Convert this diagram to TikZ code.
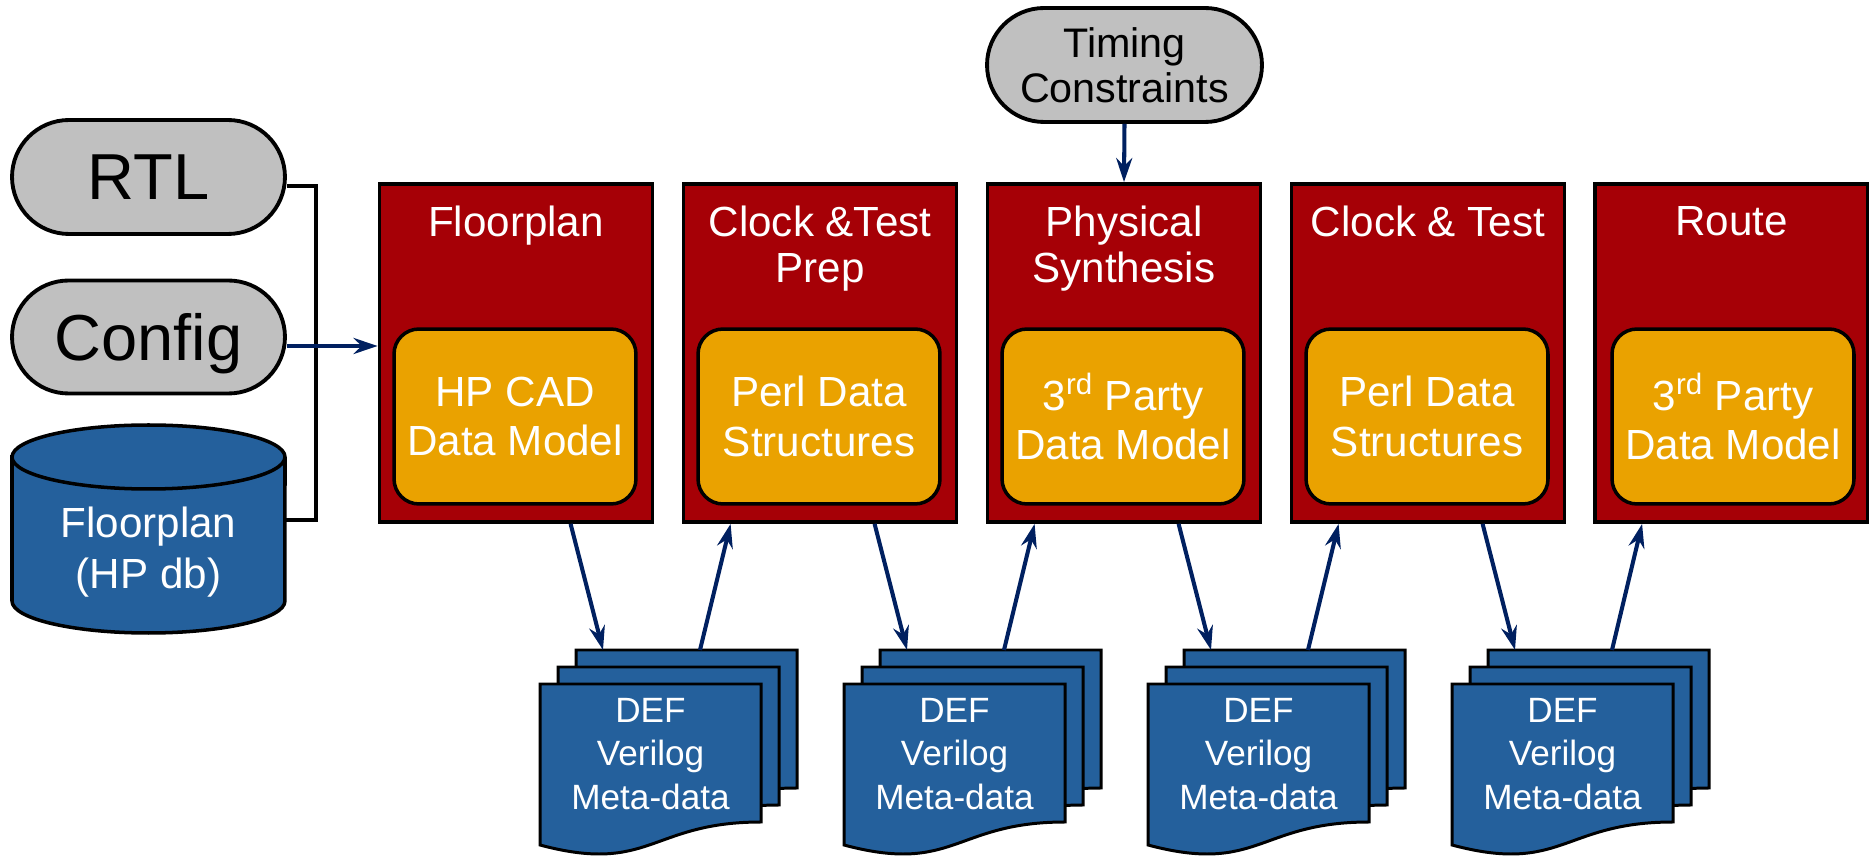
\documentclass[tikz,border=0pt]{standalone}
\usepackage{fontspec}
\setmainfont{Liberation Sans}
\usetikzlibrary{shapes.misc,arrows.meta,calc}

\definecolor{stagered}{RGB}{166,0,6}
\definecolor{coreorange}{RGB}{234,162,0}
\definecolor{docblue}{RGB}{36,96,156}
\definecolor{pillgray}{RGB}{192,192,192}
\definecolor{navy}{RGB}{0,32,96}

\begin{document}
\begin{tikzpicture}[x=0.02cm,y=-0.02cm,
  stage/.style={draw=black, line width=2.2pt, fill=stagered, minimum width=5.46cm, minimum height=6.76cm, inner sep=0pt},
  core/.style={draw=black, line width=2pt, fill=coreorange, rounded corners=0.5cm, minimum width=4.84cm, minimum height=3.5cm, text=white, align=center, inner sep=0pt, font=\fontsize{24}{28.3}\selectfont},
  title/.style={text=white, align=center, anchor=north, inner sep=0pt, font=\fontsize{24}{26}\selectfont},
  pill/.style={rounded rectangle, draw=black, line width=2.2pt, fill=pillgray, inner sep=0pt, align=center},
  arr/.style={draw=navy, line width=2.3pt, -{Stealth[length=0.48cm,width=0.32cm,inset=0.16cm]}},
  bus/.style={draw=black, line width=2.3pt},
  docline/.style={draw=black, line width=1.7pt, fill=docblue},
  doctext/.style={text=white, align=center, anchor=north, inner sep=0pt, font=\fontsize{20}{25}\selectfont},
  docpage/.pic={\filldraw[docline] (0,0) -- (221,0) -- (221,138) .. controls (110.5,138) and (110.5,190.5) .. (0,161) -- cycle;}
]
\useasboundingbox (0,0) rectangle (1869,857);

% input sources
\node[pill, minimum width=5.46cm, minimum height=2.28cm, text depth=0pt, font=\fontsize{37}{42}\selectfont] (rtl) at (148.5,177) {RTL};
\node[pill, minimum width=5.46cm, minimum height=2.26cm, text depth=0pt, font=\fontsize{37}{42}\selectfont] (cfg) at (148.5,337) {Config};

% floorplan database cylinder
\filldraw[docline, line width=2pt] (12,457) -- (12,601) arc[start angle=180,end angle=360,x radius=2.73cm,y radius=0.64cm]
  -- (285,457) arc[start angle=0,end angle=180,x radius=2.73cm,y radius=0.64cm] -- cycle;
\draw[docline, line width=2pt, fill=none] (12,457) arc[start angle=180,end angle=360,x radius=2.73cm,y radius=0.64cm];
\node[doctext, font=\fontsize{24}{28.9}\selectfont] (db) at (148.5,507) {Floorplan\\(HP db)};
\coordinate (dbEdge) at (285,520);

% timing constraints
\node[pill, minimum width=5.5cm, minimum height=2.28cm, font=\fontsize{23.5}{25.5}\selectfont] (tc) at (1124.5,65) {Timing\\Constraints};

% flow stages
\foreach \i/\cx in {1/516,2/820,3/1124,4/1428,5/1731.5}
  \node[stage] (s\i) at (\cx,353) {};

\node[title] (t1) at (516,206) {Floorplan};
\node[title] (t2) at (820,206) {Clock \&Test\\Prep};
\node[title] (t3) at (1124,206) {Physical\\Synthesis};
\node[title] (t4) at (1428,206) {Clock \& Test};
\node[title] (t5) at (1731.5,206) {Route};

\node[core] (c1) at (515,416.5) {HP CAD\\Data Model};
\node[core] (c2) at (819,416.5) {Perl Data\\Structures};
\node[core] (c3) at (1123,416.5) {3\textsuperscript{rd} Party\\Data Model};
\node[core] (c4) at (1427,416.5) {Perl Data\\Structures};
\node[core] (c5) at (1733,416.5) {3\textsuperscript{rd} Party\\Data Model};

% inputs into the first stage
\coordinate (busTop) at (316,186);
\coordinate (busBot) at (316,520);
\draw[bus] (rtl.east |- busTop) -- (busTop) -- (busBot) -- (dbEdge);
\coordinate (cfgOut) at ([yshift=-0.18cm]cfg.east);
\draw[arr] (cfgOut) -- (cfgOut -| s1.west);
\draw[arr] (tc.south) -- (s3.north);

% exchanged files between stages
\foreach \k/\x [evaluate=\k as \n using int(\k+1)] in {1/540,2/844,3/1148,4/1452} {
  \pic at (\x+36,650) {docpage};
  \pic at (\x+18,667) {docpage};
  \pic at (\x,684) {docpage};
  \node[doctext] (doc\k) at (\x+110.5,697.5) {DEF\\Verilog\\Meta-data};
  \coordinate (in\k) at (\x+63,650);
  \coordinate (out\k) at (\x+160,650);
  \draw[arr] ($(s\k.south west)+(193,0)$) -- (in\k);
  \draw[arr] (out\k) -- ($(s\n.south west)+(49,0)$);
}
\end{tikzpicture}
\end{document}
